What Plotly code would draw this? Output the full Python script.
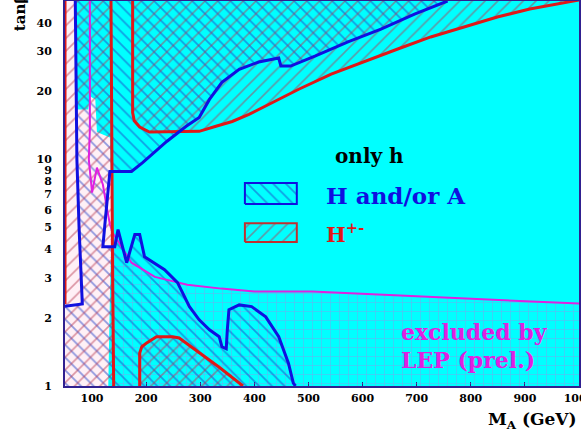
import plotly.graph_objects as go

# axis ticks
ma_ticks = [100, 200, 300, 400, 500, 600, 700, 800, 900, 1000]
tb_ticks = [1, 2, 3, 4, 5, 6, 7, 8, 9, 10, 20, 30, 40]

# H and/or A (5 sigma) contour, left branch: top -> tan b ~2.3 -> axis
blue_left_ma = [69, 70, 72, 76, 80, 82, 50]
blue_left_tb = [50, 20, 10, 5, 3, 2.3, 2.25]

# H and/or A contour, right branch: bottom axis, round the "only h" wedge, up to the top
blue_right_ma = [476, 472, 463, 445, 421, 395, 372, 353, 350, 348, 340, 335, 317, 298,
                 280, 267, 258, 234, 197, 188, 179, 164, 148, 142, 120, 124, 133, 173,
                 194, 238, 274, 298, 317, 340, 372, 408, 445, 449, 467, 513, 573, 634,
                 696, 757]
blue_right_tb = [1.0, 1.03, 1.26, 1.65, 2.02, 2.24, 2.28, 2.17, 1.77, 1.46, 1.49, 1.65, 1.77, 1.96,
                 2.24, 2.58, 2.86, 3.26, 3.72, 4.66, 4.66, 3.5, 4.9, 4.12, 4.12, 5.26, 8.85, 8.85,
                 9.7, 12.0, 14.0, 15.3, 18.4, 21.9, 25.0, 26.9, 28.0, 25.8, 25.8, 28.6, 33.0, 37.6,
                 43.8, 50.0]

# H+- contours
hpm_left_ma = [135, 136, 138, 140]
hpm_left_tb = [50, 10, 3, 1]
hpm_upper_ma = [175, 175, 178, 188, 206, 261, 298, 329, 359, 390, 421, 482, 542, 605,
                665, 726, 788, 849, 909, 972, 1000]
hpm_upper_tb = [50, 16.1, 14.8, 13.9, 13.2, 13.2, 13.3, 14.0, 14.7, 15.8, 17.2, 20.4, 23.8, 27.2,
                30.7, 34.7, 38.4, 42.5, 46.1, 49.0, 50.5]
hpm_lower_ma = [188, 188, 192, 201, 219, 249, 261, 298, 335, 379]
hpm_lower_tb = [1.0, 1.40, 1.49, 1.55, 1.65, 1.65, 1.63, 1.41, 1.21, 1.0]

# LEP (prel.) exclusion boundary
lep_ma = [96, 96, 94, 100, 109, 120, 127, 133, 138, 155, 173, 216, 276, 339, 400, 507, 753, 1000]
lep_tb = [50, 13.6, 10.0, 7.14, 9.2, 7.75, 6.19, 5.16, 4.75, 4.12, 3.50, 3.03, 2.80, 2.69, 2.61,
          2.61, 2.45, 2.31]

# low M_A patch excluded by LEP (white background)
lep_low_ma = [50, 69, 71, 93, 96, 106, 109, 133, 135, 135, 133, 130, 50]
lep_low_tb = [50, 50, 16.6, 16.6, 19.0, 18.4, 13.2, 12.5, 8, 4, 2.5, 1, 1]

CYAN = "#00ffff"
BLUE = "#1010e0"
RED = "#e01818"
MAGENTA = "#e020e0"
SERIF = "DejaVu Serif"
CLEAR = "rgba(0,0,0,0)"

blue_pattern = dict(shape="\\", size=9, solidity=0.2, fgcolor="#2040c8", fillmode="overlay")
red_pattern = dict(shape="/", size=9, solidity=0.18, fgcolor="#b83850", fillmode="overlay")

fig = go.Figure()

# white patch at low M_A
fig.add_trace(go.Scatter(x=lep_low_ma, y=lep_low_tb, fill="toself", mode="lines",
                         line=dict(width=0), fillcolor="#fff0f6", hoverinfo="skip"))

# LEP exclusion below the magenta curve: grid
grid_x = lep_ma[7:] + [1010, 1010, lep_ma[7]]
grid_y = lep_tb[7:] + [lep_tb[-1], 1, 1]
fig.add_trace(go.Scatter(x=grid_x, y=grid_y, fill="toself", mode="lines", line=dict(width=0),
                         fillcolor=CLEAR, hoverinfo="skip",
                         fillpattern=dict(shape="+", size=9, solidity=0.12,
                                          fgcolor="#c868e0", fillmode="overlay")))

# H and/or A region, blue \\\ hatch
blue_x = [blue_left_ma[0]] + blue_left_ma + [50] + blue_right_ma + [790, blue_left_ma[0]]
blue_y = [60] + blue_left_tb + [1] + blue_right_tb + [60, 60]
fig.add_trace(go.Scatter(x=blue_x, y=blue_y, fill="toself", mode="lines", line=dict(width=0),
                         fillcolor=CLEAR, hoverinfo="skip", fillpattern=blue_pattern))

# H+- regions, red /// hatch
fig.add_trace(go.Scatter(x=[50] + hpm_left_ma + [50, 50], y=[60] + hpm_left_tb + [1, 60],
                         fill="toself", mode="lines", line=dict(width=0), fillcolor=CLEAR,
                         hoverinfo="skip", fillpattern=red_pattern))
fig.add_trace(go.Scatter(x=hpm_upper_ma + [1010, 1010, hpm_upper_ma[0]],
                         y=hpm_upper_tb + [50.5, 60, 60],
                         fill="toself", mode="lines", line=dict(width=0), fillcolor=CLEAR,
                         hoverinfo="skip", fillpattern=red_pattern))
fig.add_trace(go.Scatter(x=hpm_lower_ma, y=hpm_lower_tb, fill="toself", mode="lines",
                         line=dict(width=0), fillcolor=CLEAR, hoverinfo="skip",
                         fillpattern=red_pattern))

# contour lines
fig.add_trace(go.Scatter(x=lep_ma, y=lep_tb, mode="lines", line=dict(color=MAGENTA, width=2)))
for xs, ys in [(hpm_left_ma, hpm_left_tb), (hpm_upper_ma, hpm_upper_tb),
               (hpm_lower_ma, hpm_lower_tb), ([50, 50], [2.3, 50])]:
    fig.add_trace(go.Scatter(x=xs, y=ys, mode="lines", line=dict(color=RED, width=3)))
for xs, ys in [(blue_left_ma, blue_left_tb), (blue_right_ma, blue_right_tb)]:
    fig.add_trace(go.Scatter(x=xs, y=ys, mode="lines", line=dict(color=BLUE, width=3)))

# legend keys, on an overlay axis in plot-area fractions
fig.add_trace(go.Scatter(x=[0.350, 0.451, 0.451, 0.350, 0.350], y=[0.473, 0.473, 0.527, 0.527, 0.473],
                         xaxis="x2", yaxis="y2", fill="toself", mode="lines",
                         line=dict(color=BLUE, width=2), fillcolor=CLEAR, fillpattern=blue_pattern))
fig.add_trace(go.Scatter(x=[0.350, 0.451, 0.451, 0.350, 0.350], y=[0.374, 0.374, 0.423, 0.423, 0.374],
                         xaxis="x2", yaxis="y2", fill="toself", mode="lines",
                         line=dict(color="#c03030", width=2), fillcolor=CLEAR, fillpattern=red_pattern))

annotations = [
    dict(text="only h", x=0.593, y=0.597, xanchor="center", yanchor="middle",
         font=dict(size=20, color="black")),
    dict(text="H and/or A", x=0.504, y=0.496, xanchor="left", yanchor="middle",
         font=dict(size=23, color=BLUE)),
    dict(text="H<sup>+-</sup>", x=0.504, y=0.397, xanchor="left", yanchor="middle",
         font=dict(size=21, color=RED)),
    dict(text="excluded by", x=0.650, y=0.140, xanchor="left", yanchor="middle",
         font=dict(size=22, color=MAGENTA)),
    dict(text="LEP (prel.)", x=0.650, y=0.068, xanchor="left", yanchor="middle",
         font=dict(size=22, color=MAGENTA)),
    dict(text="M<sub>A</sub> (GeV)", x=1.0, y=-0.09, xanchor="right", yanchor="middle",
         font=dict(size=17, color="black")),
    dict(text="tanβ", x=-0.0875, y=0.971, xanchor="center", yanchor="middle", textangle=-90,
         font=dict(size=15, color="black")),
]
for a in annotations:
    a.update(xref="paper", yref="paper", showarrow=False)
    a["font"].update(family=SERIF, weight="bold")

axis_font = dict(family=SERIF, size=11, color="black", weight="bold")
fig.update_layout(
    width=581, height=436,
    margin=dict(l=65, r=2, t=1, b=50, autoexpand=False),
    paper_bgcolor="white", plot_bgcolor=CYAN,
    showlegend=False,
    annotations=annotations,
    xaxis=dict(range=[50, 1000], tickvals=ma_ticks, ticks="inside", ticklen=4,
               tickcolor="#302080", showgrid=False, zeroline=False, showline=True,
               linecolor="#302090", linewidth=2, mirror=True, tickfont=axis_font,
               layer="below traces", ticklabelstandoff=1, automargin=False,
               ticklabeloverflow="allow"),
    yaxis=dict(type="log", range=[0, 1.699], tickvals=tb_ticks, ticks="inside", ticklen=4,
               tickcolor="#302080", showgrid=False, zeroline=False, showline=True,
               linecolor="#302090", linewidth=2, mirror=True, tickfont=axis_font,
               layer="below traces", ticklabelstandoff=9, automargin=False),
    xaxis2=dict(range=[0, 1], overlaying="x", visible=False),
    yaxis2=dict(range=[0, 1], overlaying="y", visible=False),
)

# the page body has a default 8px margin; drop it so the figure sits at the window corner
fig.write_html("out.html", config={"displayModeBar": False},
               post_script="document.body.style.margin = '0';")
